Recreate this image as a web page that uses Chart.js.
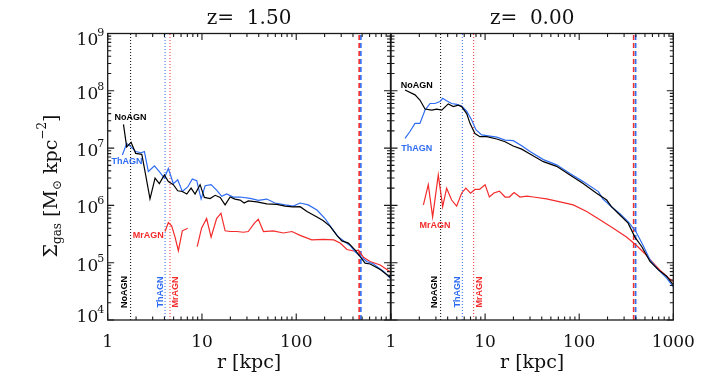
<!DOCTYPE html>
<html><head><meta charset="utf-8">
<script src="https://cdn.jsdelivr.net/npm/chart.js@4/dist/chart.umd.min.js"></script>
<style>
html,body{margin:0;padding:0;background:#fff;}
#wrap{position:relative;width:706px;height:389px;background:#fff;}
canvas{position:absolute;left:0;top:0;}
</style></head><body>
<div id="wrap"><canvas id="c1" width="706" height="389"></canvas><canvas id="c2" width="706" height="389"></canvas></div>
<script>
// ---------- DATA ----------
const runNames = ['NoAGN', 'ThAGN', 'MrAGN'];
const runColors = ['#000000', '#2d6cf2', '#f32b2b'];
const panelTitles = ['z=  1.50', 'z=  0.00'];

// z = 1.50 panel
const leftNoR = [1.47,1.59,1.77,1.98,2.30,2.49,2.81,3.18,3.53,3.99,4.40,4.97,5.53,6.19,6.90,7.66,8.45,9.55,10.6,12.2,13.8,15.6,17.6,19.9,22.4,25.4,28,31,38.2,48.7,62.3,76.3,92,110,130,166,194,229,270,305,358,422,477,538,609,778,1000];
const leftNoS = [2.6e7,1.05e7,1.26e7,8.1e6,7.8e6,3.9e6,1.3e6,3.0e6,2.4e6,3.4e6,2.6e6,2.3e6,1.8e6,1.75e6,1.58e6,2.0e6,1.58e6,2.3e6,1.38e6,1.32e6,1.5e6,1.38e6,1.02e6,1.4e6,1.29e6,1.24e6,1.1e6,1.2e6,1.15e6,1.06e6,1.04e6,9.7e5,9.4e5,9.5e5,7.8e5,6.3e5,5.4e5,4.3e5,3.0e5,2.4e5,2.2e5,1.66e5,1.27e5,9.8e4,9.5e4,7.6e4,5.5e4];
const leftThR = [1.43,1.59,1.77,1.98,2.26,2.45,2.70,3.13,3.53,3.99,4.40,4.97,5.53,6.19,7.06,7.9,8.8,9.8,10.8,12.5,14.3,16.2,18.3,21.5,25.4,32.5,39.6,48.7,59.5,76.3,93,110,134,166,202,238,280,330,372,422,477,560,654,845,1000];
const leftThS = [7.6e6,1.2e7,1.05e7,8.7e6,8.3e6,8.7e6,3.9e6,4.9e6,3.9e6,3.0e6,4.4e6,2.4e6,2.8e6,1.75e6,2.1e6,2.9e6,2.7e6,1.29e6,2.2e6,2.3e6,1.85e6,1.44e6,1.58e6,1.4e6,1.4e6,1.33e6,1.22e6,1.29e6,1.1e6,1.02e6,9.7e5,1.1e6,1.02e6,8.3e5,5.9e5,4.0e5,2.8e5,2.3e5,2.0e5,1.55e5,1.3e5,1.05e5,9.6e4,7.0e4,5.3e4];
const leftMrR = [4.06,4.40,4.77,5.18,5.62,6.19,7.06,8.0,8.9,9.9,11.2,12.5,14.3,15.9,17.6,19.9,23.4,27.5,31,36,39.6,44.9,57,73,90,110,146,194,250,292,345,405,458,517,607,778,1000];
const leftMrS = [3.5e5,5.0e5,4.4e5,2.8e5,1.62e5,3.6e5,4.0e5,null,1.9e5,4.0e5,5.9e5,2.8e5,5.9e5,7.3e5,3.6e5,3.5e5,3.5e5,3.4e5,3.5e5,4.9e5,5.7e5,3.5e5,3.6e5,3.3e5,3.5e5,3.0e5,2.5e5,2.55e5,2.5e5,2.2e5,1.7e5,1.6e5,1.65e5,1.24e5,1.05e5,9.1e4,6.9e4];
const leftCoreR = [1.75, 4.06, 4.58];      // NoAGN, ThAGN, MrAGN (dotted)
const leftOuterR = [485, 465];            // ThAGN (blue), MrAGN (red) (dashed)

// z = 0.00 panel
const rightNoR = [1.41,1.80,2.03,2.30,2.71,3.06,3.46,3.74,4.06,4.59,5.19,5.63,6.37,6.91,7.8,8.8,10.4,13.3,16.3,19.9,24.5,30,41.6,57.6,79.8,110,153,196,220,271,331,391,463,565,695,850,1000];
const rightNoS = [1.03e8,8.5e7,6.9e7,4.8e7,4.6e7,4.8e7,4.6e7,5.2e7,5.9e7,5.3e7,5.6e7,5.3e7,4.0e7,2.7e7,1.8e7,1.58e7,1.58e7,1.44e7,1.29e7,1.09e7,9.6e6,7.9e6,5.8e6,4.8e6,3.4e6,2.4e6,1.63e6,1.24e6,9.5e5,6.8e5,4.9e5,2.8e5,1.9e5,1.05e5,7.5e4,5.8e4,4.1e4];
const rightThR = [1.41,1.59,1.80,2.03,2.30,2.60,2.93,3.32,3.54,3.90,4.41,4.98,5.63,6.37,7.2,7.98,9.2,10.8,13.3,16.3,19.9,24.5,30,41.6,57.6,79.8,110,160,178,220,271,331,400,478,565,695,850,1000];
const rightThS = [1.48e7,1.95e7,2.7e7,2.7e7,4.6e7,6.0e7,6.0e7,6.5e7,7.4e7,6.7e7,6.0e7,5.8e7,5.4e7,4.4e7,3.1e7,2.1e7,1.7e7,1.63e7,1.55e7,1.38e7,1.35e7,1.1e7,8.7e6,6.3e6,5.1e6,3.6e6,2.6e6,1.74e6,1.3e6,9.5e5,7.2e5,5.2e5,3.5e5,2.0e5,1.12e5,7.5e4,5.4e4,3.8e4];
const rightMrR = [2.21,2.49,2.77,3.18,3.54,3.90,4.41,4.98,5.63,6.24,7.0,7.8,8.7,10.0,11.1,12.4,14.2,16.3,18.1,20.3,23.5,27.7,32.6,45,62.5,86.5,120,166,230,318,407,497,590,718,890,1000];
const rightMrS = [1.02e6,2.3e6,6.3e5,3.4e6,9.5e5,2.0e6,1.24e6,9.7e5,1.63e6,2.0e6,1.63e6,1.9e6,1.9e6,2.3e6,1.4e6,1.65e6,1.77e6,1.4e6,1.4e6,1.67e6,1.4e6,1.45e6,1.4e6,1.3e6,1.15e6,1.02e6,7.8e5,5.6e5,4.0e5,2.8e5,2.0e5,1.45e5,1.05e5,7.5e4,5.4e4,4.7e4];
const rightCoreR = [3.37, 5.73, 7.56];
const rightOuterR = [398, 379];

// axes
const xTickVals = [1, 10, 100, 1000];
const xTickLabelsLeft = ['1', '10', '100', ''];
const xTickLabelsRight = ['1', '10', '100', '1000'];
const yTickVals = [1e4, 1e5, 1e6, 1e7, 1e8, 1e9];
const yTickExps = ['4', '5', '6', '7', '8', '9'];
const xRange = [1, 1000];
const yRange = [1e4, 1e9];

// ---------- DRAWING ----------
const pts = (rs, ss) => rs.map((r, i) => ({x: r, y: ss[i]}));
const SERIF = '"DejaVu Serif", serif';

const framePlugin = {
  id: 'frame',
  afterDraw(chart, args, o) {
    const {ctx, chartArea: a} = chart;
    const xs = chart.scales.x, ys = chart.scales.y;
    ctx.save();
    ctx.strokeStyle = '#1a1a1a';
    ctx.lineWidth = 1.1;
    ctx.beginPath();
    for (let n = 0; n <= 3; n++) for (let k = 1; k <= 9; k++) {
      const v = k * Math.pow(10, n); if (v > xRange[1]) break;
      const px = xs.getPixelForValue(v), L = k === 1 ? 6.5 : 3.5;
      ctx.moveTo(px, a.bottom); ctx.lineTo(px, a.bottom - L);
      ctx.moveTo(px, a.top); ctx.lineTo(px, a.top + L);
    }
    for (let n = 4; n <= 9; n++) for (let k = 1; k <= 9; k++) {
      const v = k * Math.pow(10, n); if (v > yRange[1]) break;
      const py = ys.getPixelForValue(v), L = k === 1 ? 6.5 : 3.5;
      ctx.moveTo(a.left, py); ctx.lineTo(a.left + L, py);
      ctx.moveTo(a.right, py); ctx.lineTo(a.right - L, py);
    }
    ctx.stroke();
    ctx.lineWidth = 1.3;
    ctx.strokeRect(a.left, a.top, a.right - a.left, a.bottom - a.top);

    // x tick labels
    ctx.fillStyle = '#111';
    ctx.font = '17px ' + SERIF;
    ctx.textAlign = 'center';
    ctx.textBaseline = 'alphabetic';
    o.xLabels.forEach((t, i) => { if (t) ctx.fillText(t, xs.getPixelForValue(xTickVals[i]), a.bottom + 27); });
    // x title
    ctx.font = '19px ' + SERIF;
    ctx.fillText('r [kpc]', (a.left + a.right) / 2, a.bottom + 48);
    // panel title
    ctx.font = '20px ' + SERIF;
    ctx.fillText(o.title, (a.left + a.right) / 2, 24);

    if (o.yLabels) {
      yTickVals.forEach((v, i) => {
        const py = ys.getPixelForValue(v);
        const off = i === yTickVals.length - 1 ? 11.5 : (i === 0 ? 2 : 8);
        ctx.font = '17px ' + SERIF; ctx.textAlign = 'right';
        ctx.fillText('10', a.left - 9.5, py + off);
        ctx.font = '11px ' + SERIF; ctx.textAlign = 'left';
        ctx.fillText(yTickExps[i], a.left - 10.5, py + off - 9);
      });
      // y title (rotated)
      const parts = [
        ['Σ', 19, 0], ['gas', 12, 4], [' [M', 19, 0], ['⊙', 12, 4],
        [' kpc', 19, 0], ['−2', 12, -11], [']', 19, 0]
      ];
      let total = 0;
      parts.forEach(p => { ctx.font = p[1] + 'px ' + SERIF; total += ctx.measureText(p[0]).width; });
      ctx.save();
      ctx.translate(50, 186);
      ctx.rotate(-Math.PI / 2);
      ctx.textAlign = 'left';
      let u = -total / 2;
      parts.forEach(p => {
        ctx.font = p[1] + 'px ' + SERIF;
        ctx.fillText(p[0], u, 6.5 + p[2]);
        u += ctx.measureText(p[0]).width;
      });
      ctx.restore();
    }

    // run labels
    ctx.font = 'bold 9px "Liberation Sans", Arial, sans-serif';
    ctx.textBaseline = 'middle';
    ctx.textAlign = 'center';
    o.tags.forEach((t, i) => {
      ctx.fillStyle = runColors[i];
      ctx.fillText(runNames[i], xs.getPixelForValue(t[0]), ys.getPixelForValue(t[1]));
    });
    // vertical labels beside the core-radius lines
    const offs = [-6, -5, 5.5];
    o.cores.forEach((r, i) => {
      ctx.save();
      ctx.translate(xs.getPixelForValue(r) + offs[i], a.bottom - 28);
      ctx.rotate(-Math.PI / 2);
      ctx.fillStyle = runColors[i];
      ctx.fillText(runNames[i], 0, 0);
      ctx.restore();
    });
    ctx.restore();
  }
};

function vline(r, color, dash, width) {
  return {data: [{x: r, y: yRange[0]}, {x: r, y: yRange[1]}], borderColor: color,
          borderWidth: width, borderDash: dash, pointRadius: 0, fill: false};
}
function curve(rs, ss, color) {
  return {data: pts(rs, ss), borderColor: color, borderWidth: 1.2, pointRadius: 0,
          fill: false, spanGaps: false, tension: 0};
}

function makePanel(id, series, cores, outer, padL, padR, frameOpts) {
  const ds = [];
  series.forEach((s, i) => ds.push(curve(s[0], s[1], runColors[i])));
  cores.forEach((r, i) => ds.push(vline(r, runColors[i], [1, 2], 1)));
  ds.push(vline(outer[0], runColors[1], [5, 3], 1.6));
  ds.push(vline(outer[1], runColors[2], [5, 3], 1.6));
  return new Chart(document.getElementById(id), {
    type: 'line',
    data: {datasets: ds},
    options: {
      responsive: false, animation: false, devicePixelRatio: 1,
      layout: {padding: {left: padL, right: padR, top: 33.5, bottom: 69}},
      plugins: {legend: {display: false}, tooltip: {enabled: false}, frame: frameOpts},
      scales: {
        x: {type: 'logarithmic', min: xRange[0], max: xRange[1], display: false},
        y: {type: 'logarithmic', min: yRange[0], max: yRange[1], display: false}
      }
    },
    plugins: [framePlugin]
  });
}

makePanel('c1', [[leftNoR, leftNoS], [leftThR, leftThS], [leftMrR, leftMrS]], leftCoreR, leftOuterR,
  107.7, 706 - 390.5,
  {title: panelTitles[0], xLabels: xTickLabelsLeft, yLabels: true, cores: leftCoreR,
   tags: [[1.75, 3.45e7], [1.60, 5.8e6], [2.70, 3.04e5]]});
makePanel('c2', [[rightNoR, rightNoS], [rightThR, rightThS], [rightMrR, rightMrS]], rightCoreR, rightOuterR,
  391, 706 - 673.3,
  {title: panelTitles[1], xLabels: xTickLabelsRight, yLabels: false, cores: rightCoreR,
   tags: [[1.88, 1.24e8], [1.88, 9.7e6], [2.93, 4.5e5]]});
</script>
</body></html>
